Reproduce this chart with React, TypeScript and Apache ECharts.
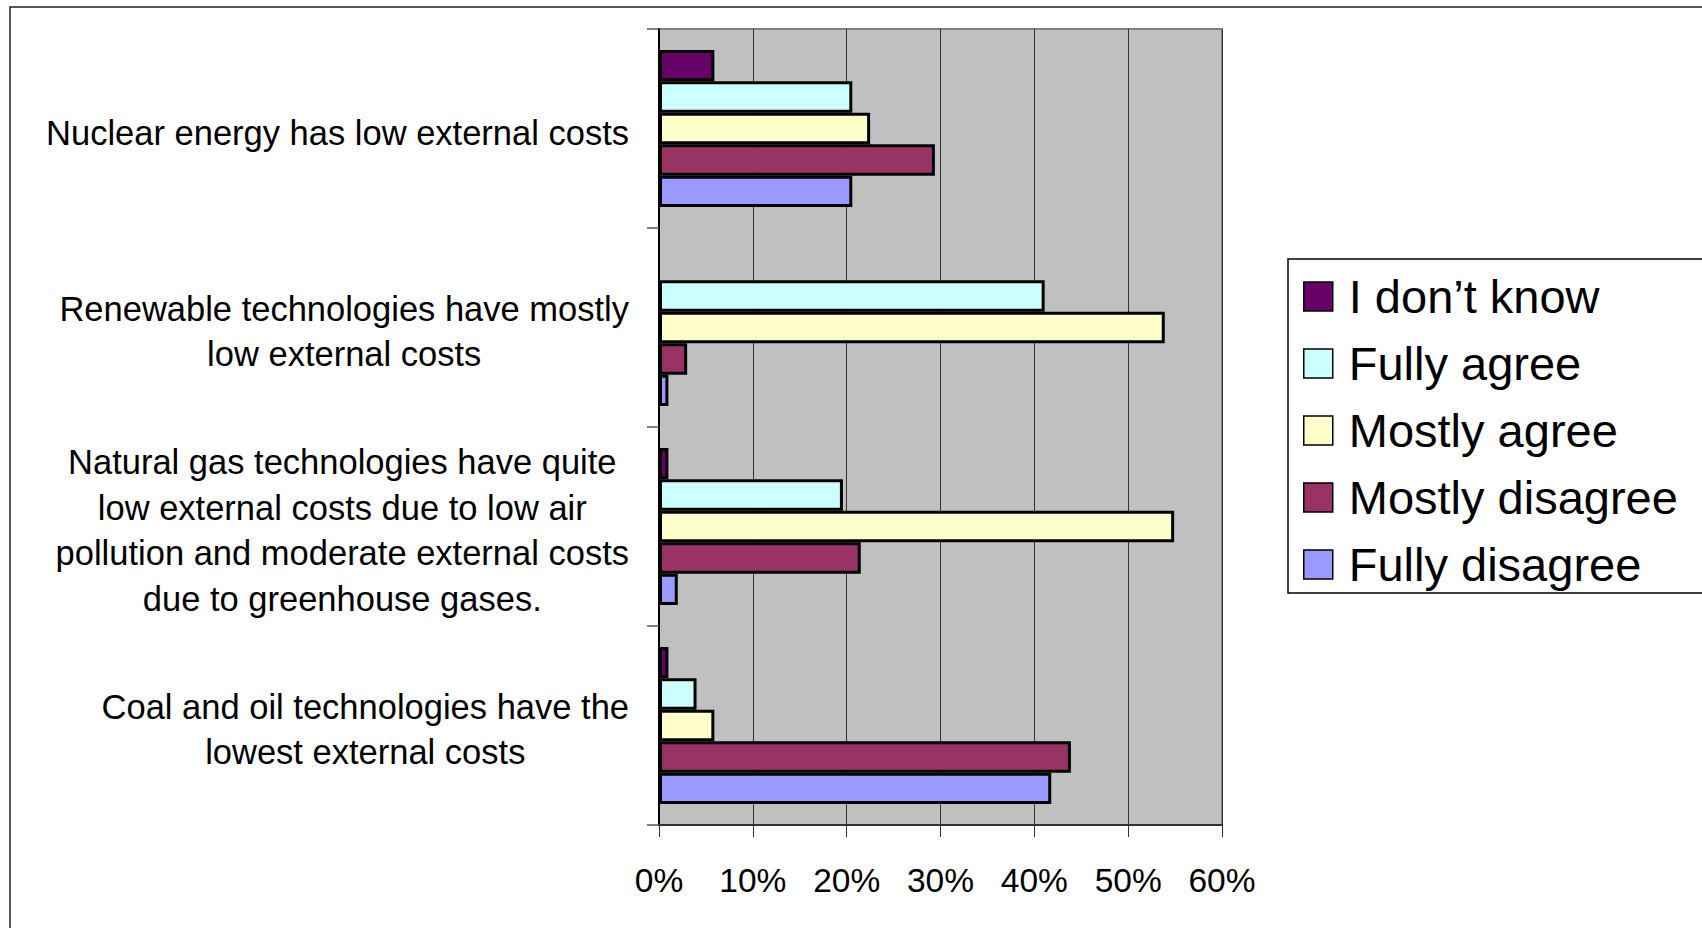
import React, { useEffect, useRef } from "react";
import * as echarts from "echarts";

// Survey statements (top to bottom)
const categories: string[] = [
  "Nuclear energy has low external costs",
  "Renewable technologies have mostly\nlow external costs",
  "Natural gas technologies have quite\nlow external costs due to low air\npollution and moderate external costs\ndue to greenhouse gases.",
  "Coal and oil technologies have the\nlowest external costs",
];

const seriesNames: string[] = [
  "I don\u2019t know",
  "Fully agree",
  "Mostly agree",
  "Mostly disagree",
  "Fully disagree",
];

const seriesColors: string[] = ["#660066", "#CCFFFF", "#FFFFCC", "#993366", "#9999FF"];

// Share of answers, in percent, per statement
const dontKnow: number[] = [5.9, 0, 1.0, 1.0];
const fullyAgree: number[] = [20.6, 41.1, 19.6, 4.0];
const mostlyAgree: number[] = [22.5, 53.9, 54.9, 5.9];
const mostlyDisagree: number[] = [29.4, 3.0, 21.5, 43.9];
const fullyDisagree: number[] = [20.6, 1.0, 2.0, 41.8];

const seriesValues: number[][] = [dontKnow, fullyAgree, mostlyAgree, mostlyDisagree, fullyDisagree];

const xTicks: number[] = [0, 10, 20, 30, 40, 50, 60];

const FONT = "'Liberation Sans', Arial, Helvetica, sans-serif";

export default function App() {
  const ref = useRef<HTMLDivElement>(null);

  useEffect(() => {
    if (!ref.current) return;
    const chart = echarts.init(ref.current, undefined, { renderer: "svg" });

    const option: echarts.EChartsOption = {
      animation: false,
      backgroundColor: "#ffffff",
      textStyle: { fontFamily: FONT },
      graphic: [
        {
          type: "rect",
          z: -10,
          shape: { x: 10, y: 7, width: 1800, height: 1000 },
          style: { fill: "none", stroke: "#222", lineWidth: 1.5 },
          silent: true,
        },
      ],
      grid: {
        left: 659,
        top: 29,
        width: 563,
        height: 796,
        show: true,
        backgroundColor: "#C0C0C0",
        borderColor: "#808080",
        borderWidth: 2,
      },
      legend: {
        orient: "vertical",
        left: 1288,
        top: 259,
        padding: [14, 80, 5, 15],
        borderColor: "#000",
        borderWidth: 1.5,
        backgroundColor: "#fff",
        itemWidth: 29,
        itemHeight: 29,
        itemGap: 20,
        icon: "rect",
        itemStyle: { borderColor: "#000", borderWidth: 1.5 },
        textStyle: {
          fontFamily: FONT,
          fontSize: 47,
          lineHeight: 46,
          color: "#000",
          padding: [0, 0, 0, 11],
        },
        data: seriesNames,
      },
      xAxis: {
        type: "value",
        min: xTicks[0],
        max: xTicks[xTicks.length - 1],
        interval: 10,
        axisLine: { show: true, lineStyle: { color: "#333", width: 2 } },
        axisTick: { show: true, length: 12, lineStyle: { color: "#333", width: 1 } },
        axisLabel: {
          formatter: "{value}%",
          fontFamily: FONT,
          fontSize: 33.5,
          color: "#000",
          margin: 38,
        },
        splitLine: { show: true, lineStyle: { color: "#333", width: 1 } },
      },
      yAxis: {
        type: "category",
        inverse: true,
        data: categories,
        axisLine: { show: true, lineStyle: { color: "#000", width: 2 } },
        axisTick: { show: true, length: 12, lineStyle: { color: "#555", width: 1.5 } },
        axisLabel: {
          margin: 30,
          interval: 0,
          padding: [8, 0, 0, 0],
          formatter: (v: string) =>
            v
              .split("\n")
              .map((line) => `{c|${line}}`)
              .join("\n"),
          rich: {
            c: {
              align: "center",
              fontFamily: FONT,
              fontSize: 34.5,
              lineHeight: 45.5,
              color: "#000",
            },
          },
        },
      },
      series: seriesNames.map((name, i) => ({
        name,
        type: "bar",
        // an empty answer share leaves no outline on the axis
        data: seriesValues[i].map((v) =>
          v === 0 ? { value: v, itemStyle: { borderWidth: 0 } } : v
        ),
        barGap: "0%",
        barCategoryGap: "21%",
        itemStyle: { color: seriesColors[i], borderColor: "#000", borderWidth: 3 },
        silent: true,
      })),
    };

    chart.setOption(option);
    return () => chart.dispose();
  }, []);

  return (
    <div
      ref={ref}
      style={{ position: "fixed", left: 0, top: 0, width: 1702, height: 928 }}
    />
  );
}
